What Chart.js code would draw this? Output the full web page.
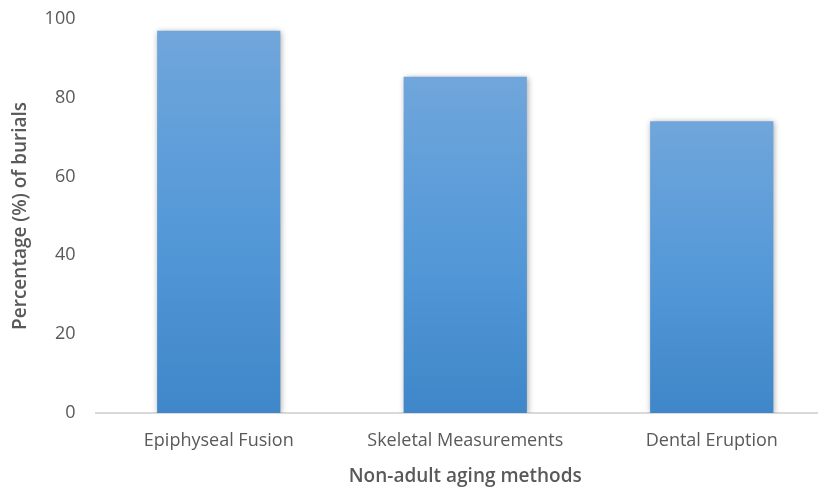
<!DOCTYPE html>
<html>
<head>
<meta charset="utf-8">
<script src="https://cdn.jsdelivr.net/npm/chart.js@4"></script>
<style>
  html, body { margin: 0; padding: 0; background: #ffffff; overflow: hidden; }
  #wrap { width: 818px; height: 488px; overflow: hidden; }
  #chart { margin-top: -12px; display: block; }
</style>
</head>
<body>
<div id="wrap"><canvas id="chart" width="835" height="500"></canvas></div>
<script>
const METHODS = ["Epiphyseal Fusion", "Skeletal Measurements", "Dental Eruption"];
const BURIAL_PERCENT = [97, 85.3, 74];
const Y_TICKS = [0, 20, 40, 60, 80, 100];

const TEXT_COLOR = "#595959";
const FONT_FAMILY = "'Open Sans', sans-serif";

function barGradient(context) {
  const chart = context.chart;
  const area = chart.chartArea;
  if (!area || context.raw === undefined) {
    return "#5b9bd5";
  }
  const yScale = chart.scales.y;
  const top = yScale.getPixelForValue(context.raw);
  const bottom = yScale.getPixelForValue(0);
  const gradient = chart.ctx.createLinearGradient(0, top, 0, bottom);
  gradient.addColorStop(0, "#70a6db");
  gradient.addColorStop(0.5, "#5599d8");
  gradient.addColorStop(1, "#3f87c9");
  return gradient;
}

// soft shadow around the bars, like the office chart style
const barShadow = {
  id: "barShadow",
  beforeDatasetsDraw(chart) {
    const ctx = chart.ctx;
    ctx.save();
    ctx.shadowColor = "rgba(0, 0, 0, 0.35)";
    ctx.shadowBlur = 6;
    ctx.shadowOffsetX = 1;
    ctx.shadowOffsetY = 1;
  },
  afterDatasetsDraw(chart) {
    chart.ctx.restore();
  },
};

new Chart(document.getElementById("chart"), {
  type: "bar",
  data: {
    labels: METHODS,
    datasets: [
      {
        data: BURIAL_PERCENT,
        backgroundColor: barGradient,
        borderWidth: 0,
        barPercentage: 1,
        categoryPercentage: 0.5,
      },
    ],
  },
  plugins: [barShadow],
  options: {
    responsive: false,
    animation: false,
    layout: {
      padding: { top: 6, right: 0, left: 0, bottom: 0 },
    },
    plugins: {
      legend: { display: false },
      tooltip: { enabled: false },
    },
    scales: {
      x: {
        grid: { display: false, drawTicks: false },
        border: { display: true, color: "#d9d9d9", width: 2 },
        ticks: {
          color: TEXT_COLOR,
          padding: 17,
          font: { family: FONT_FAMILY, size: 18 },
        },
        title: {
          display: true,
          text: "Non-adult aging methods",
          color: TEXT_COLOR,
          font: { family: FONT_FAMILY, size: 19, weight: "600" },
          padding: { top: 8, bottom: 0 },
        },
        afterFit(scale) {
          scale.height = 75;
        },
      },
      y: {
        min: 0,
        max: 100,
        afterBuildTicks(scale) {
          scale.ticks = Y_TICKS.map((v) => ({ value: v }));
        },
        grid: { display: false, drawTicks: false },
        border: { display: false },
        ticks: {
          color: TEXT_COLOR,
          padding: 20,
          font: { family: FONT_FAMILY, size: 18 },
        },
        title: {
          display: true,
          text: "Percentage (%) of burials",
          color: TEXT_COLOR,
          font: { family: FONT_FAMILY, size: 19, weight: "600" },
          padding: { top: 9, bottom: 0 },
        },
        afterFit(scale) {
          scale.width = 95.5;
        },
      },
    },
  },
});
</script>
</body>
</html>
